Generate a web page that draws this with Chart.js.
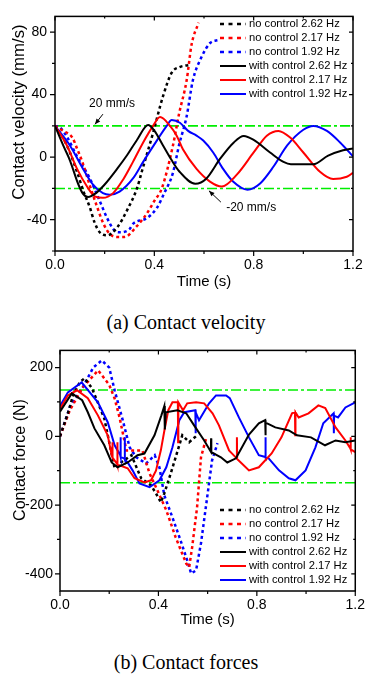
<!DOCTYPE html>
<html>
<head>
<meta charset="utf-8">
<script src="https://cdn.jsdelivr.net/npm/chart.js@4.4.1/dist/chart.umd.min.js"></script>
<style>
  body { margin: 0; background: #fff; width: 371px; height: 674px; position: relative; overflow: hidden; }
  canvas { position: absolute; left: 0; }
  #velocity { top: 0; }
  #force { top: 335px; }
  .caption {
    position: absolute; left: 0; width: 372px; text-align: center;
    font-family: "Liberation Serif", "Times New Roman", serif; font-size: 20px; line-height: 24px; color: #000;
  }
</style>
</head>
<body>
<canvas id="velocity" width="371" height="300"></canvas>
<div class="caption" style="top:310px">(a) Contact velocity</div>
<canvas id="force" width="371" height="300"></canvas>
<div class="caption" style="top:650px">(b) Contact forces</div>
<script>
const sansFont = "'Liberation Sans', Arial, sans-serif";

const seriesLabels = [
  "no control 2.62 Hz",
  "no control 2.17 Hz",
  "no control 1.92 Hz",
  "with control 2.62 Hz",
  "with control 2.17 Hz",
  "with control 1.92 Hz",
];
const timeTicks = [0, 0.4, 0.8, 1.2];
const velTicks = [-40, 0, 40, 80];
const forceTicks = [-400, -200, 0, 200];
const velLimits = [20, -20];
const forceLimits = [135, -135];

// (a) contact velocity, mm/s
const velNo262Time = [0, 0.03, 0.06, 0.09, 0.115, 0.14, 0.16, 0.18, 0.21, 0.25, 0.29, 0.33, 0.35, 0.395, 0.435, 0.47, 0.5, 0.545];
const velNo262 = [20, 13, 3, -10, -22, -32, -42, -48, -50, -45, -34, -20, -9, 15.6, 39, 54, 57.5, 59];
const velNo217Time = [0, 0.03, 0.07, 0.09, 0.11, 0.14, 0.17, 0.195, 0.22, 0.25, 0.28, 0.33, 0.37, 0.4, 0.43, 0.475, 0.5, 0.53, 0.55, 0.578];
const velNo217 = [20, 17, 12.5, 5, -3, -18, -32, -42.5, -49, -51, -51, -44, -36, -28, -20, 7.5, 28, 49, 72, 86];
const velNo192Time = [0, 0.02, 0.05, 0.09, 0.14, 0.18, 0.21, 0.24, 0.26, 0.3, 0.315, 0.37, 0.41, 0.44, 0.475, 0.5, 0.53, 0.555, 0.59, 0.625, 0.66];
const velNo192 = [20, 19, 12.5, 0, -13.5, -28, -39, -47, -48, -46, -42.5, -39, -32.5, -23, -10, 8, 26, 49, 64, 73, 75];
const velWith262Time = [0, 0.033, 0.06, 0.093, 0.113, 0.133, 0.165, 0.2, 0.25, 0.29, 0.33, 0.375, 0.4, 0.435, 0.47, 0.5, 0.565, 0.61, 0.665, 0.72, 0.76, 0.8, 0.866, 0.92, 0.95, 1.04, 1.1, 1.16, 1.2];
const velWith262 = [20, 7.5, -2, -17, -23.5, -25.5, -23, -17.5, -7.5, 1.2, 11, 20.6, 17, 7.5, -2, -9, -17, -13.6, -1, 9.4, 13.5, 11, 3, -3, -4.5, -4.5, 1, 4.4, 5.6];
const velWith217Time = [0, 0.048, 0.089, 0.129, 0.16, 0.193, 0.234, 0.274, 0.314, 0.355, 0.395, 0.423, 0.463, 0.49, 0.515, 0.57, 0.624, 0.672, 0.733, 0.8, 0.853, 0.9, 0.947, 1.0, 1.067, 1.12, 1.175, 1.2];
const velWith217 = [20, 7.5, -7.5, -18.8, -25, -26, -23, -14.4, -3, 9.4, 20, 25.6, 20, 13.75, 5, -7.5, -15.6, -18.8, -11, 3, 13.75, 16.8, 12.5, 3, -9.4, -14, -12.5, -10];
const velWith192Time = [0, 0.06, 0.113, 0.153, 0.193, 0.22, 0.26, 0.314, 0.355, 0.41, 0.45, 0.47, 0.503, 0.536, 0.57, 0.597, 0.637, 0.677, 0.717, 0.775, 0.826, 0.88, 0.935, 1.0, 1.04, 1.095, 1.148, 1.2];
const velWith192 = [20, 7.5, -7.5, -17.5, -23, -24, -22, -13.6, -3, 10.6, 20, 23.75, 22, 16.8, 13.75, 10.6, 3, -7.5, -15.6, -20.8, -16.8, -6, 7.5, 17.5, 20, 16.8, 9.4, 0.5];

// (b) contact force, N
const forceNo262Time = [0, 0.032, 0.053, 0.08, 0.1, 0.13, 0.18, 0.222, 0.25, 0.29, 0.33, 0.37, 0.39, 0.41, 0.424, 0.45, 0.47, 0.497, 0.525, 0.557];
const forceNo262 = [0, 67, 119, 157, 169, 140, 52, -93, -75, -55, -122, -143, -166, -192, -166, -108, -61, 3, -17, 3];
const forceNo217Time = [0, 0.04, 0.093, 0.155, 0.2, 0.222, 0.242, 0.27, 0.31, 0.335, 0.364, 0.39, 0.432, 0.47, 0.513, 0.525, 0.537, 0.557, 0.573, 0.594];
const forceNo217 = [0, 76, 143, 192, 150, 110, 55, -41, -41, -41, -108, -148, -215, -294, -370, -381, -323, -207, -61, -6];
const forceNo192Time = [0, 0.04, 0.093, 0.135, 0.17, 0.2, 0.222, 0.255, 0.283, 0.31, 0.35, 0.385, 0.404, 0.424, 0.457, 0.49, 0.517, 0.533, 0.553, 0.573, 0.598, 0.618, 0.64];
const forceNo192 = [0, 85, 143, 200, 221, 200, 134, 47, -32, -61, -79, -55, -90, -172, -236, -303, -361, -399, -390, -311, -178, -70, -20];
const forceWith262Time = [0, 0.048, 0.09, 0.113, 0.14, 0.18, 0.21, 0.234, 0.275, 0.315, 0.343, 0.384, 0.412, 0.424, 0.426, 0.43, 0.477, 0.513, 0.545, 0.586, 0.613, 0.614, 0.615, 0.654, 0.68, 0.715, 0.768, 0.808, 0.834, 0.835, 0.836, 0.875, 0.93, 0.963, 1.02, 1.077, 1.12, 1.16, 1.2];
const forceWith262 = [72, 125, 105, 70, 23, -26, -76, -90, -76, -55, -50, 3, 61, 88, 20, 70, 76, 67, 32, -12, -45, -6, -46, -61, -76, -64, 5, 38, 47, 3, 40, 26, 17, 3, -3, -26, -12, -17, -12];
const forceWith217Time = [0, 0.032, 0.069, 0.113, 0.154, 0.194, 0.21, 0.212, 0.213, 0.214, 0.232, 0.233, 0.234, 0.242, 0.275, 0.303, 0.343, 0.37, 0.39, 0.41, 0.425, 0.44, 0.457, 0.479, 0.48, 0.481, 0.5, 0.517, 0.553, 0.586, 0.62, 0.646, 0.687, 0.718, 0.719, 0.72, 0.768, 0.808, 0.86, 0.9, 0.943, 0.955, 0.956, 0.957, 0.97, 1.01, 1.05, 1.078, 1.12, 1.16, 1.18, 1.181, 1.182, 1.2];
const forceWith217 = [80, 119, 134, 111, 61, 3, -55, -60, -17, -62, -80, -17, -84, -84, -93, -122, -134, -128, -100, -40, 20, 76, 99, 99, -17, 99, 76, 96, 99, 96, 67, 32, -41, -64, -3, -66, -99, -90, -50, -3, 67, 70, 3, 70, 55, 67, 90, 82, 26, -12, -35, -3, -38, -46];
const forceWith192Time = [0, 0.032, 0.088, 0.154, 0.194, 0.222, 0.245, 0.246, 0.247, 0.262, 0.263, 0.264, 0.275, 0.295, 0.323, 0.364, 0.404, 0.432, 0.457, 0.485, 0.505, 0.55, 0.551, 0.552, 0.565, 0.606, 0.634, 0.675, 0.69, 0.727, 0.768, 0.808, 0.834, 0.835, 0.836, 0.848, 0.89, 0.93, 0.957, 0.998, 1.038, 1.07, 1.112, 1.113, 1.114, 1.13, 1.16, 1.2];
const forceWith192 = [88, 128, 157, 99, 41, -26, -55, -3, -60, -65, -3, -68, -76, -99, -137, -148, -128, -90, -32, 47, 70, 76, 9, 70, 47, 96, 119, 119, 111, 55, -3, -55, -60, -3, -62, -64, -99, -122, -128, -99, -32, 38, 67, 9, 60, 55, 84, 99];

function toPoints(times, values) {
  return times.map((t, i) => ({ x: t, y: values[i] }));
}

function curve(label, color, times, values, dashed) {
  return {
    label: label,
    data: toPoints(times, values),
    borderColor: color,
    borderWidth: dashed ? 2.5 : 2,
    borderDash: dashed ? [3, 3] : [],
    pointRadius: 0,
    fill: false,
    order: dashed ? 2 : 1,
  };
}

function guide(value) {
  return {
    data: [{ x: 0, y: value }, { x: 1.2, y: value }],
    borderColor: "#00ee00",
    borderWidth: 1.6,
    borderDash: [10, 3, 3, 3],
    pointRadius: 0,
    fill: false,
    order: 3,
  };
}

function drawArrow(ctx, x1, y1, x2, y2) {
  const ang = Math.atan2(y2 - y1, x2 - x1);
  ctx.beginPath();
  ctx.moveTo(x1, y1);
  ctx.lineTo(x2, y2);
  ctx.stroke();
  ctx.beginPath();
  ctx.moveTo(x2, y2);
  ctx.lineTo(x2 - 6 * Math.cos(ang - 0.4), y2 - 6 * Math.sin(ang - 0.4));
  ctx.lineTo(x2 - 6 * Math.cos(ang + 0.4), y2 - 6 * Math.sin(ang + 0.4));
  ctx.closePath();
  ctx.fill();
}

// frame with ticks on all four sides, y title, legend and the notes
const decor = {
  id: "decor",
  afterDraw(chart, args, opts) {
    const { ctx, chartArea: a, scales } = chart;
    const xs = scales.x, ys = scales.y;
    ctx.save();
    ctx.strokeStyle = "#000";
    ctx.fillStyle = "#000";
    ctx.lineWidth = 1.5;
    ctx.setLineDash([]);
    ctx.strokeRect(a.left, a.top, a.right - a.left, a.bottom - a.top);

    const xMajor = timeTicks;
    const xMinor = xMajor.slice(1).map((v, i) => (v + xMajor[i]) / 2);
    const yMajor = opts.yTicks;
    const step = yMajor[1] - yMajor[0];
    const yMinor = [yMajor[0] - step / 2].concat(yMajor.map((v) => v + step / 2));
    ctx.lineWidth = 1.2;
    ctx.beginPath();
    xMajor.concat(xMinor).forEach((v) => {
      const px = xs.getPixelForValue(v);
      const len = xMajor.includes(v) ? 5 : 3;
      ctx.moveTo(px, a.bottom); ctx.lineTo(px, a.bottom + len);
      ctx.moveTo(px, a.top); ctx.lineTo(px, a.top + len - 1);
    });
    yMajor.concat(yMinor).forEach((v) => {
      if (v < ys.min || v > ys.max) return;
      const py = ys.getPixelForValue(v);
      const len = yMajor.includes(v) ? 5 : 3;
      ctx.moveTo(a.left, py); ctx.lineTo(a.left - len, py);
      ctx.moveTo(a.right, py); ctx.lineTo(a.right - len + 1, py);
    });
    ctx.stroke();

    // y title sits a little above the middle of the axis, as in the figure
    const yt = opts.yTitle;
    ctx.save();
    ctx.translate(yt.x, yt.y);
    ctx.rotate(-Math.PI / 2);
    ctx.font = yt.size + "px " + sansFont;
    ctx.textAlign = "center";
    ctx.textBaseline = "middle";
    ctx.fillText(yt.text, 0, 0);
    ctx.restore();

    // legend
    const lg = opts.legend;
    ctx.font = "11.2px " + sansFont;
    ctx.textBaseline = "middle";
    ctx.textAlign = "left";
    chart.data.datasets.filter((d) => d.label).forEach((ds, i) => {
      const y = lg.y + i * 14;
      ctx.strokeStyle = ds.borderColor;
      ctx.lineWidth = ds.borderDash.length ? 2.5 : 2;
      ctx.setLineDash(ds.borderDash.length ? [4, 4.5] : []);
      ctx.beginPath();
      ctx.moveTo(lg.x, y);
      ctx.lineTo(lg.x + 26, y);
      ctx.stroke();
      ctx.fillStyle = "#000";
      ctx.fillText(ds.label, lg.x + 29, y);
    });

    // notes with arrows
    ctx.setLineDash([]);
    ctx.strokeStyle = "#000";
    ctx.fillStyle = "#000";
    ctx.lineWidth = 1;
    ctx.font = "12px " + sansFont;
    ctx.textAlign = "center";
    (opts.notes || []).forEach((n) => {
      ctx.fillText(n.text, xs.getPixelForValue(n.at[0]), ys.getPixelForValue(n.at[1]));
      drawArrow(ctx,
        xs.getPixelForValue(n.from[0]), ys.getPixelForValue(n.from[1]),
        xs.getPixelForValue(n.to[0]), ys.getPixelForValue(n.to[1]));
    });
    ctx.restore();
  },
};

function makeChart(id, cfg) {
  return new Chart(document.getElementById(id), {
    type: "line",
    data: { datasets: cfg.datasets },
    plugins: [decor],
    options: {
      responsive: false,
      animation: false,
      layout: { padding: { top: cfg.area.top, right: 371 - cfg.area.right, left: 0, bottom: 0 } },
      elements: { line: cfg.smooth ? { cubicInterpolationMode: "monotone" } : { tension: 0 } },
      plugins: {
        legend: { display: false },
        tooltip: { enabled: false },
        decor: { yTicks: cfg.yTicks, yTitle: cfg.yTitle, legend: cfg.legend, notes: cfg.notes },
      },
      scales: {
        x: {
          type: "linear",
          min: 0,
          max: 1.2,
          afterBuildTicks: (scale) => { scale.ticks = timeTicks.map((v) => ({ value: v })); },
          afterFit: (scale) => { scale.height = 300 - cfg.area.bottom; },
          grid: { display: false, drawTicks: false },
          border: { display: false },
          ticks: {
            padding: 6,
            color: "#000",
            font: { family: sansFont, size: 14 },
            callback: (v) => Number(v).toFixed(1),
          },
          title: {
            display: true,
            text: "Time (s)",
            color: "#000",
            font: { family: sansFont, size: 15 },
            padding: { top: 0, bottom: cfg.xTitlePad },
          },
        },
        y: {
          type: "linear",
          min: cfg.yRange[0],
          max: cfg.yRange[1],
          afterBuildTicks: (scale) => { scale.ticks = cfg.yTicks.map((v) => ({ value: v })); },
          afterFit: (scale) => { scale.width = cfg.area.left; },
          grid: { display: false, drawTicks: false },
          border: { display: false },
          ticks: { padding: cfg.yTickPad, color: "#000", font: { family: sansFont, size: 14 } },
        },
      },
    },
  });
}

makeChart("velocity", {
  area: { left: 55, top: 11, right: 353, bottom: 251 },
  yRange: [-60, 90],
  yTicks: velTicks,
  yTitle: { text: "Contact velocity (mm/s)", x: 19.5, y: 112, size: 16.8 },
  yTickPad: 8,
  xTitlePad: 9,
  smooth: true,
  legend: { x: 220, y: 24 },
  notes: [
    { text: "20 mm/s", at: [0.23, 34.4], from: [0.193, 27.5], to: [0.161, 21] },
    { text: "-20 mm/s", at: [0.79, -32.5], from: [0.668, -28.75], to: [0.62, -21.5] },
  ],
  datasets: [
    curve(seriesLabels[0], "#000000", velNo262Time, velNo262, true),
    curve(seriesLabels[1], "#ff0000", velNo217Time, velNo217, true),
    curve(seriesLabels[2], "#0000ff", velNo192Time, velNo192, true),
    curve(seriesLabels[3], "#000000", velWith262Time, velWith262, false),
    curve(seriesLabels[4], "#ff0000", velWith217Time, velWith217, false),
    curve(seriesLabels[5], "#0000ff", velWith192Time, velWith192, false),
    guide(velLimits[0]),
    guide(velLimits[1]),
  ],
});

makeChart("force", {
  area: { left: 60, top: 14, right: 357, bottom: 256 },
  yRange: [-450, 250],
  yTicks: forceTicks,
  yTitle: { text: "Contact force (N)", x: 20.5, y: 125, size: 16 },
  yTickPad: 7,
  xTitlePad: 6,
  smooth: false,
  legend: { x: 220, y: 175 },
  notes: [],
  datasets: [
    curve(seriesLabels[0], "#000000", forceNo262Time, forceNo262, true),
    curve(seriesLabels[1], "#ff0000", forceNo217Time, forceNo217, true),
    curve(seriesLabels[2], "#0000ff", forceNo192Time, forceNo192, true),
    curve(seriesLabels[3], "#000000", forceWith262Time, forceWith262, false),
    curve(seriesLabels[4], "#ff0000", forceWith217Time, forceWith217, false),
    curve(seriesLabels[5], "#0000ff", forceWith192Time, forceWith192, false),
    guide(forceLimits[0]),
    guide(forceLimits[1]),
  ],
});
</script>
</body>
</html>
